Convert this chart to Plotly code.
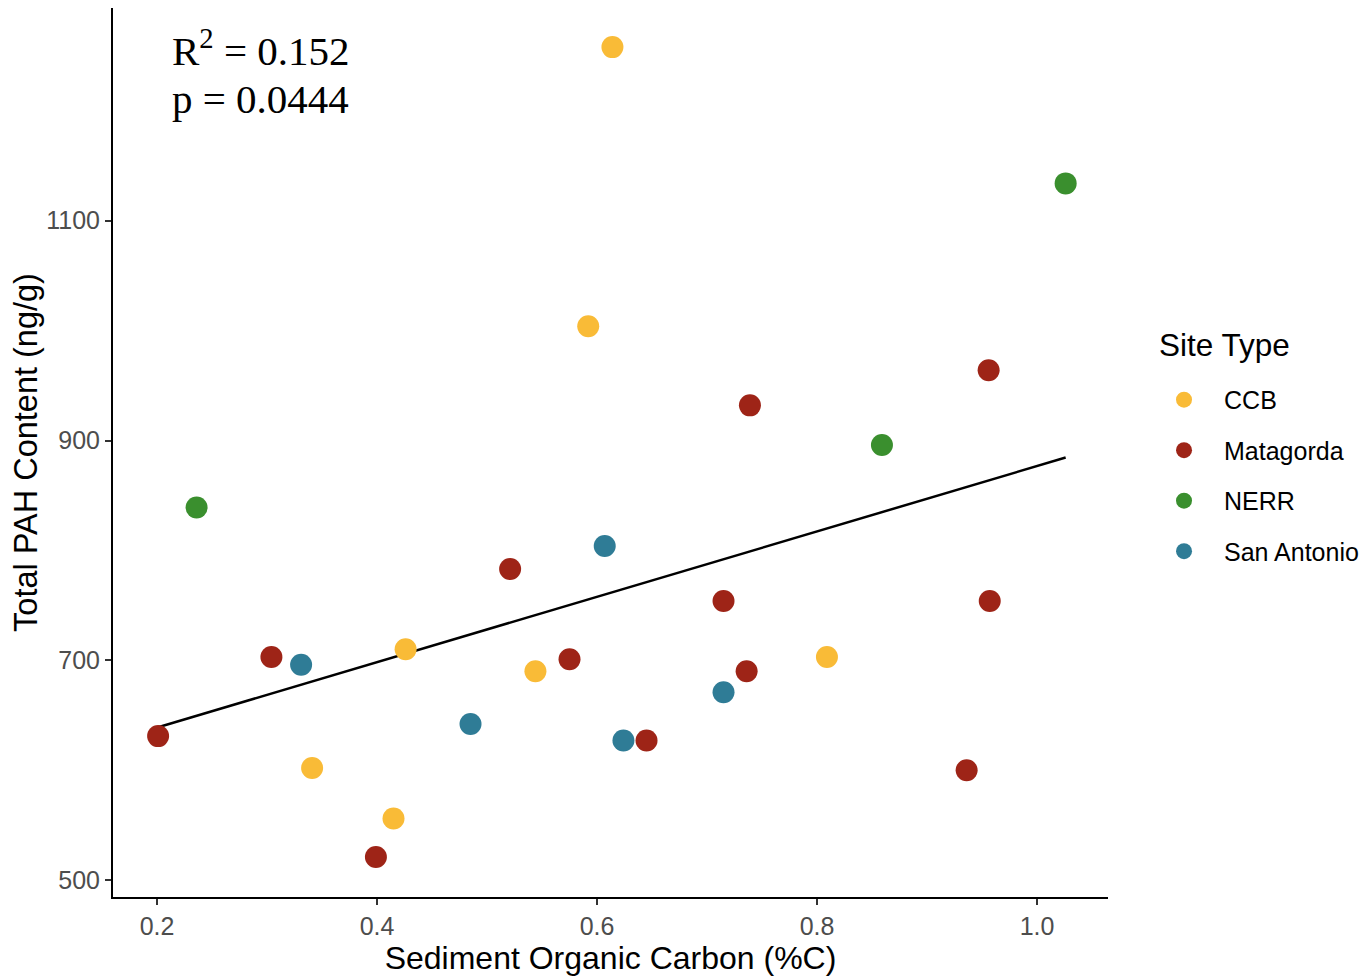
import numpy as np
import plotly.graph_objects as go

site_types = ["CCB", "Matagorda", "NERR", "San Antonio"]
colors = ["#F9BB37", "#9E2417", "#3A8F2E", "#2F7C96"]

ccb_x = [0.614, 0.592, 0.426, 0.544, 0.809, 0.341, 0.415]
ccb_y = [1258, 1004, 710, 690, 703, 602, 556]

mat_x = [0.201, 0.304, 0.399, 0.521, 0.575, 0.645, 0.739, 0.715, 0.736, 0.956, 0.957, 0.936]
mat_y = [631, 703, 521, 783, 701, 627, 932, 754, 690, 964, 754, 600]

nerr_x = [0.236, 0.859, 1.026]
nerr_y = [839, 896, 1134]

sa_x = [0.331, 0.485, 0.607, 0.624, 0.715]
sa_y = [696, 642, 804, 627, 671]

r2_text = "R<sup>2</sup> = 0.152"
p_text = "p = 0.0444"

x_ticks = [0.2, 0.4, 0.6, 0.8, 1.0]
x_tick_labels = ["0.2", "0.4", "0.6", "0.8", "1.0"]
y_ticks = [500, 700, 900, 1100]
y_tick_labels = ["500", "700", "900", "1100"]

series = [(ccb_x, ccb_y), (mat_x, mat_y), (nerr_x, nerr_y), (sa_x, sa_y)]

fig = go.Figure()

all_x = np.array(ccb_x + mat_x + nerr_x + sa_x)
all_y = np.array(ccb_y + mat_y + nerr_y + sa_y)
slope, intercept = np.polyfit(all_x, all_y, 1)
fx = np.array([all_x.min(), all_x.max()])
fig.add_trace(go.Scatter(x=fx, y=slope * fx + intercept, mode="lines",
                         line=dict(color="black", width=2.5), showlegend=False,
                         hoverinfo="skip"))

for i, (name, (xs, ys)) in enumerate(zip(site_types, series)):
    fig.add_trace(go.Scatter(x=xs, y=ys, mode="markers", name=name,
                             legendgroup=name,
                             marker=dict(color=colors[i], size=22, line=dict(width=0))))

serif = dict(family="Liberation Serif", size=41, color="black")
fig.add_annotation(xref="paper", yref="paper", x=0.0575, y=0.955, xanchor="left", yanchor="middle",
                   text=r2_text, showarrow=False, align="left", font=serif)
fig.add_annotation(xref="paper", yref="paper", x=0.0575, y=0.8975, xanchor="left", yanchor="middle",
                   text=p_text, showarrow=False, align="left", font=serif)
fig.add_annotation(xref="paper", yref="paper", x=1.0495, y=0.6209, xanchor="left", yanchor="middle",
                   text="Site Type", showarrow=False, align="left",
                   font=dict(family="Liberation Sans", size=31.5, color="black"))

axis_common = dict(showgrid=False, zeroline=False, showline=True, linecolor="black", linewidth=2,
                   ticks="outside", ticklen=6, tickwidth=1.5, tickcolor="#333333",
                   tickfont=dict(family="Liberation Sans", size=25, color="#4D4D4D"),
                   mirror=False)

fig.update_layout(
    width=1361, height=971,
    margin=dict(l=105, r=261, t=0, b=82),
    plot_bgcolor="white", paper_bgcolor="white",
    xaxis=dict(range=[0.16, 1.0645], tickvals=x_ticks, ticktext=x_tick_labels,
               title=dict(text="Sediment Organic Carbon (%C)", standoff=4,
                          font=dict(family="Liberation Sans", size=32, color="black")),
               **axis_common),
    yaxis=dict(range=[484.6, 1293.6], tickvals=y_ticks, ticktext=y_tick_labels,
               title=dict(text="Total PAH Content (ng/g)", standoff=3,
                          font=dict(family="Liberation Sans", size=32.5, color="black")),
               **axis_common),
    legend=dict(x=1.0362, y=0.585, xanchor="left", yanchor="top",
                font=dict(family="Liberation Sans", size=25, color="black"),
                traceorder="grouped", tracegroupgap=15, itemsizing="trace", itemwidth=70),
    showlegend=True,
)

fig.write_html("out.html")
